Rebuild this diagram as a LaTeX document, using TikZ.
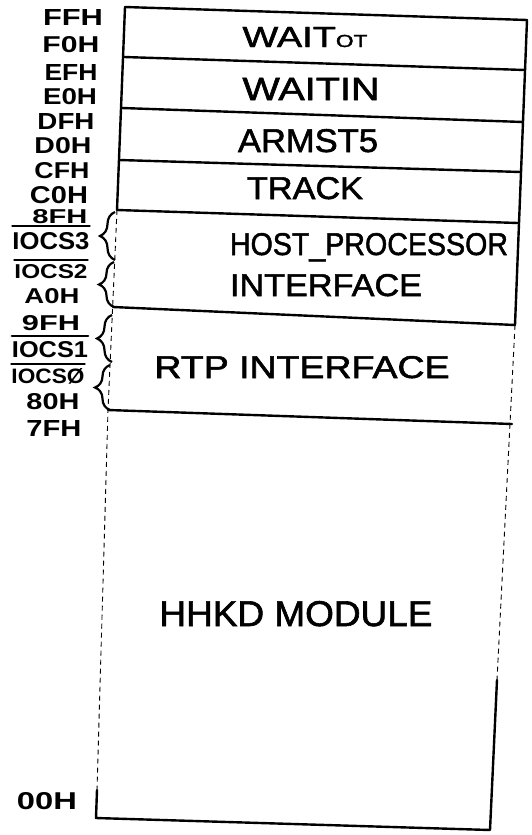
\documentclass[tikz,border=0pt]{standalone}
\usepackage{fontspec}
\setmainfont{Liberation Sans}
\newfontfamily\boxfont[FakeBold=1.6]{Liberation Sans}
\usepackage{graphicx}
\usetikzlibrary{decorations.pathreplacing}
\newcommand{\fitbox}[3]{\resizebox{#1}{#2}{#3}}
\begin{document}
\begin{tikzpicture}[x=1pt,y=-1pt,
  lab/.style={inner sep=0pt, anchor=base, font=\bfseries},
  txt/.style={inner sep=0pt, anchor=base, font=\boxfont},
  edge/.style={line width=2.4pt, line cap=round, line join=round},
  faint/.style={line width=0.9pt, dash pattern=on 5pt off 4pt},
  ovl/.style={line width=2.2pt, line cap=round},
  brc/.style={line width=2.2pt, decorate, decoration={brace, amplitude=15pt, aspect=0.5}}]
\useasboundingbox (0,0) rectangle (531,835);

% box corners and dividers
\coordinate (tl) at (125,7);   \coordinate (tr) at (527,20);
\coordinate (d1l) at (124,57); \coordinate (d1r) at (525,70);
\coordinate (d2l) at (122,108);\coordinate (d2r) at (523,122);
\coordinate (d3l) at (119,160);\coordinate (d3r) at (521,172);
\coordinate (d4l) at (117,210);\coordinate (d4r) at (518,223);
\coordinate (d5l) at (113,307);\coordinate (d5r) at (515,325);
\coordinate (d6l) at (108,410);\coordinate (d6r) at (512,424);
\coordinate (bl) at (96,818);  \coordinate (br) at (490,830);
\coordinate (lm) at (97,790);  \coordinate (rm) at (497,680);

\draw[edge] (tl) -- (tr);
\draw[edge] (d1l) -- (d1r);
\draw[edge] (d2l) -- (d2r);
\draw[edge] (d3l) -- (d3r);
\draw[edge] (d4l) -- (d4r);
\draw[edge] (d5l) -- (d5r);
\draw[edge] (d6l) -- (d6r);
\draw[edge] (lm) -- (bl) -- (br) -- (rm);
\draw[edge] (d4l) -- (tl);
\draw[edge] (tr) -- (d5r);
\draw[faint] (d4l) -- (d6l) -- (lm);
\draw[faint] (d5r) -- (rm);

% braces
\coordinate (b1b) at (115,260); \coordinate (b1t) at (115,212);
\coordinate (b2b) at (114,307); \coordinate (b2t) at (114,262);
\coordinate (b3b) at (112,362); \coordinate (b3t) at (112,315);
\coordinate (b4b) at (110,410); \coordinate (b4t) at (110,365);
\draw[brc] (b1b) -- (b1t);
\draw[brc] (b2b) -- (b2t);
\draw[brc] (b3b) -- (b3t);
\draw[brc] (b4b) -- (b4t);

% address labels
\node[lab] (ffh) at (73,25) {\fitbox{60pt}{16pt}{FFH}};
\node[lab] (f0h) at (71,52) {\fitbox{57pt}{16pt}{F0H}};
\node[lab] (efh) at (71,80) {\fitbox{53pt}{16pt}{EFH}};
\node[lab] (e0h) at (70,104) {\fitbox{54pt}{16pt}{E0H}};
\node[lab] (dfh) at (66,129) {\fitbox{57pt}{16pt}{DFH}};
\node[lab] (d0h) at (63,153) {\fitbox{57pt}{16pt}{D0H}};
\node[lab] (cfh) at (62,178) {\fitbox{55pt}{16pt}{CFH}};
\node[lab] (c0h) at (59,203) {\fitbox{58pt}{17pt}{C0H}};
\node[lab] (h8f) at (60,223) {\fitbox{55pt}{14pt}{8FH}};
\node[lab] (cs3) at (51,249) {\fitbox{77pt}{17pt}{IOCS3}};
\node[lab] (cs2) at (51,278) {\fitbox{73pt}{14pt}{IOCS2}};
\node[lab] (a0h) at (52,303) {\fitbox{55pt}{15pt}{A0H}};
\node[lab] (h9f) at (51,330) {\fitbox{58pt}{15pt}{9FH}};
\node[lab] (cs1) at (50,357) {\fitbox{76pt}{16pt}{IOCS1}};
\node[lab] (cs0) at (48,383) {\fitbox{73pt}{15pt}{IOCSØ}};
\node[lab] (h80) at (53,409) {\fitbox{53pt}{16pt}{80H}};
\node[lab] (h7f) at (54,436) {\fitbox{55pt}{16pt}{7FH}};
\node[lab] (h00) at (47,809) {\fitbox{60pt}{17pt}{00H}};

% overlines (active-low chip selects)
\draw[ovl] ([yshift=6pt]cs3.north west) -- ([yshift=6pt]cs3.north east);
\draw[ovl] ([yshift=4pt]cs2.north west) -- ([yshift=4pt]cs2.north east);
\draw[ovl] ([yshift=5pt]cs1.north west) -- ([yshift=5pt]cs1.north east);
\draw[ovl] ([yshift=4pt]cs0.north west) -- ([yshift=4pt]cs0.north east);

% module names
\node[txt] (waitot) at (305,47) {\fitbox{125pt}{20pt}{WAIT{\fontsize{6}{7}\selectfont OT}}};
\node[txt] (waitin) at (311,100) {\fitbox{137pt}{22pt}{WAITIN}};
\node[txt] (armst5) at (308,152) {\fitbox{140pt}{23pt}{ARMST5}};
\node[txt] (track) at (305,199) {\fitbox{116pt}{22pt}{TRACK}};
\node[txt] (host) at (369,255) {\fitbox{278pt}{22pt}{HOST\_PROCESSOR}};
\node[txt] (hostif) at (326,296) {\fitbox{192pt}{22pt}{INTERFACE}};
\node[txt] (rtp) at (302,378) {\fitbox{295pt}{22pt}{RTP INTERFACE}};
\node[txt] (hhkd) at (296,626) {\fitbox{273pt}{25pt}{HHKD MODULE}};
\end{tikzpicture}
\end{document}
